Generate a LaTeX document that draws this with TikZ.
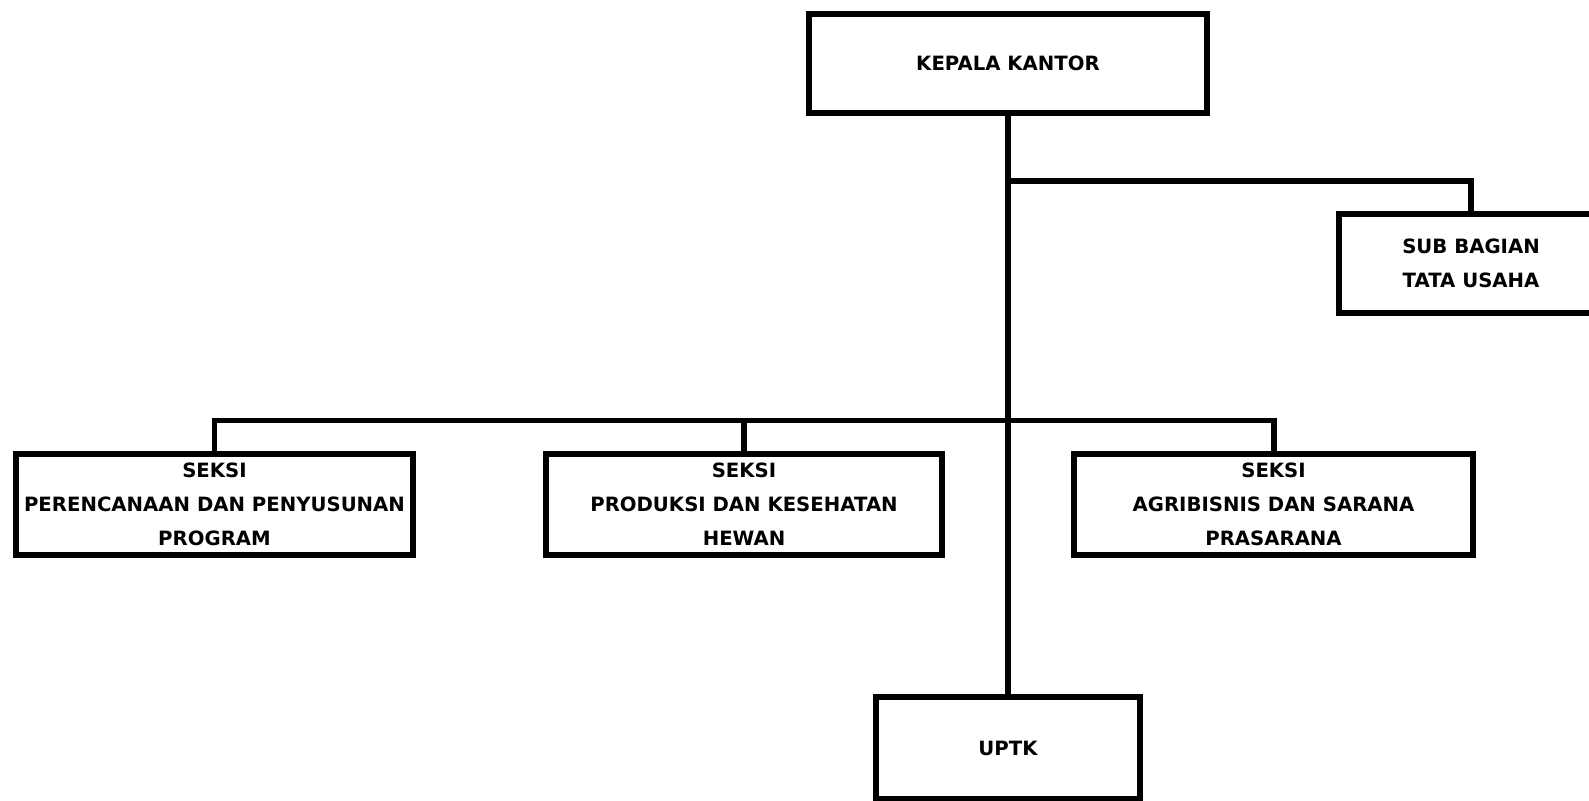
\documentclass[tikz,border=0pt]{standalone}
\usepackage{fontspec}
\setmainfont{DejaVu Sans}

\begin{document}
\begin{tikzpicture}[x=0.01cm,y=-0.01cm,
  unit/.style={draw,line width=1.7pt,rectangle,align=center,inner sep=0pt,
    font=\bfseries\fontsize{5.6}{9.7}\selectfont},
  link/.style={line width=1.7pt}]
\useasboundingbox (0,0) rectangle (1589,801);
\node[unit,minimum width=3.97cm,minimum height=0.98cm] (kepala) at (1008,63.5) {KEPALA KANTOR};
\node[unit,minimum width=2.64cm,minimum height=0.98cm] (tu) at (1471,263.5) {SUB BAGIAN\\TATA USAHA};
\node[unit,minimum width=3.965cm,minimum height=1cm] (seksi1) at (214.5,504.5) {SEKSI\\PERENCANAAN DAN PENYUSUNAN\\PROGRAM};
\node[unit,minimum width=3.95cm,minimum height=1cm] (seksi2) at (744,504.5) {SEKSI\\PRODUKSI DAN KESEHATAN\\HEWAN};
\node[unit,minimum width=3.98cm,minimum height=1cm] (seksi3) at (1273.5,504.5) {SEKSI\\AGRIBISNIS DAN SARANA\\PRASARANA};
\node[unit,minimum width=2.635cm,minimum height=1.015cm] (uptk) at (1008,748.25) {UPTK};
\coordinate (j1) at (1008,181);
\coordinate (j2) at (1008,420.5);
% garis komando
\draw[link] (kepala.south) -- (uptk.north);
\draw[link] (j1) -| (tu.north);
\draw[link] (seksi1.north) |- (j2) -| (seksi3.north);
\draw[link] (seksi2.north) -- (seksi2.north |- j2);
\end{tikzpicture}
\end{document}
